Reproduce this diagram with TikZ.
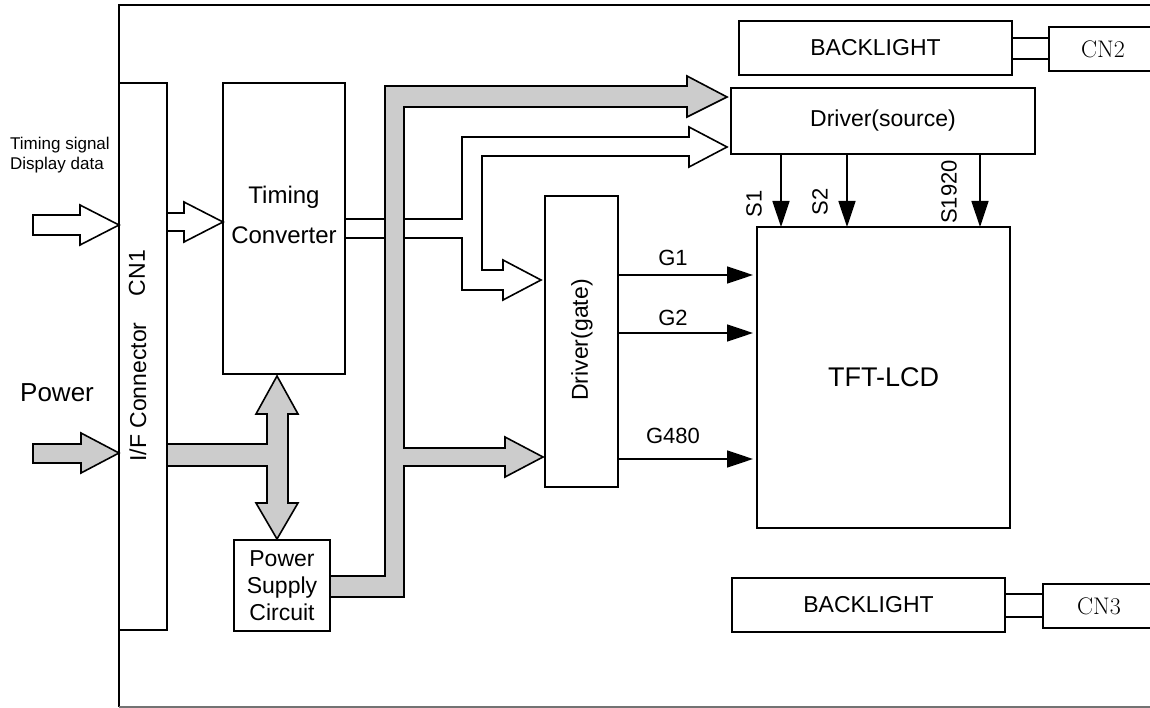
\documentclass[tikz,border=0pt]{standalone}
\usepackage{fontspec}
\newfontfamily\arial{Liberation Sans}
\usetikzlibrary{arrows.meta}
\definecolor{busgray}{gray}{0.80}
\begin{document}
\begin{tikzpicture}[x=1pt,y=-1pt,
  lw/.style={line width=1.6pt},
  box/.style={draw, lw, fill=white, anchor=north west, inner sep=0pt, outer sep=0pt,
    font=\arial\fontsize{23}{27}\selectfont, align=center},
  lbl/.style={inner sep=0pt, font=\arial\fontsize{22}{26}\selectfont},
  sig/.style={lw, -{Triangle[length=26pt,width=17pt]}},
  fatwhite/.style={draw, lw, fill=white, line join=miter},
  fatgray/.style={draw, lw, fill=busgray, line join=miter}]
\useasboundingbox (0,0) rectangle (1150,708);

% frame
\draw[lw] (1155,5) -- (119,5) -- (119,707);
\draw[lw, black!55] (119,707) -- (1155,707);

% boxes
\node[box, minimum width=48pt, minimum height=547pt] (cn1) at (119,83) {};
\node[box, minimum width=122pt, minimum height=291pt] (tc) at (223,83) {};
\node[box, minimum width=96pt, minimum height=91pt] (psc) at (234,540) {Power\\Supply\\Circuit};
\node[box, minimum width=73pt, minimum height=291pt] (gate) at (545,196) {};
\node[box, minimum width=304pt, minimum height=66pt] (src) at (731,88) {Driver(source)};
\node[box, minimum width=273pt, minimum height=54pt] (bl1) at (739,21) {BACKLIGHT};
\node[box, minimum width=108pt, minimum height=44pt, font=\fontsize{24}{28}\selectfont] (cn2) at (1049,27) {CN2};
\node[box, minimum width=253pt, minimum height=301pt, font=\arial\fontsize{27}{30}\selectfont] (tft) at (757,227) {TFT-LCD};
\node[box, minimum width=273pt, minimum height=54pt] (bl2) at (732,578) {BACKLIGHT};
\node[box, minimum width=112pt, minimum height=44pt, font=\fontsize{24}{28}\selectfont] (cn3) at (1043,584) {CN3};

% texts inside boxes
\node[lbl, font=\arial\fontsize{23}{27}\selectfont, rotate=90] (ifc) at (138,392) {I/F Connector};
\node[lbl, font=\arial\fontsize{23}{27}\selectfont, rotate=90] (cn1t) at (137,273) {CN1};
\node[lbl, font=\arial\fontsize{24}{40}\selectfont, align=center] (tct) at (284,215) {Timing\\Converter};
\node[lbl, font=\arial\fontsize{23}{27}\selectfont, rotate=90] (gatet) at (582,340) {Driver(gate)};

% outside labels
\node[inner sep=0pt, anchor=west, align=left, font=\arial\fontsize{17}{19.5}\selectfont] (tsig) at (10,155) {Timing signal\\Display data};
\node[inner sep=0pt, anchor=west, font=\arial\fontsize{26}{30}\selectfont] (pwr) at (20,393) {Power};

% backlight connectors
\draw[lw] (bl1.east |- 0,38) -- (cn2.west |- 0,38);
\draw[lw] (bl1.east |- 0,59) -- (cn2.west |- 0,59);
\draw[lw] (bl2.east |- 0,594) -- (cn3.west |- 0,594);
\draw[lw] (bl2.east |- 0,617) -- (cn3.west |- 0,617);

% input arrows
\draw[fatwhite] (33,215) -- (80,215) -- (80,205) -- (cn1.west |- 0,225) -- (80,245) -- (80,235) -- (33,235) -- cycle;
\draw[fatgray] (33,444) -- (81,444) -- (81,433) -- (cn1.west |- 0,453) -- (81,473) -- (81,463) -- (33,463) -- cycle;

% CN1 -> Timing converter
\draw[fatwhite] (cn1.east |- 0,213) -- (184,213) -- (184,202) -- (tc.west |- 0,222) -- (184,242) -- (184,231) -- (cn1.east |- 0,231);

% power bus CN1 -> TC / PSC
\draw[fatgray] (cn1.east |- 0,444) -- (267,444) -- (267,414) -- (256,414) -- (277,376) -- (298,414) -- (288,414)
  -- (288,503) -- (298,503) -- (277,539) -- (256,503) -- (267,503) -- (267,466) -- (cn1.east |- 0,466);

% TC outputs -> source driver and gate driver
\draw[fatwhite] (tc.east |- 0,219) -- (462,219) -- (462,137) -- (689,137) -- (689,127) -- (727,147) -- (689,167) -- (689,156)
  -- (482,156) -- (482,270) -- (503,270) -- (503,260) -- (541,280) -- (503,300) -- (503,290) -- (462,290) -- (462,238) -- (tc.east |- 0,238);

% power supply bus
\draw[fatgray] (psc.east |- 0,576) -- (385,576) -- (385,86) -- (687,86) -- (687,76) -- (727,97) -- (687,117) -- (687,107)
  -- (404,107) -- (404,448) -- (505,448) -- (505,437) -- (543,457) -- (505,477) -- (505,466) -- (404,466) -- (404,597) -- (psc.east |- 0,597);

% restore box edges under the wide arrows
\draw[lw] (cn1.north east) -- (cn1.south east);
\draw[lw] (tc.north east) -- (tc.south east);
\draw[lw] (psc.north east) -- (psc.south east);

% source lines
\draw[sig] (src.south -| 781,0) -- (tft.north -| 781,0);
\draw[sig] (src.south -| 847,0) -- (tft.north -| 847,0);
\draw[sig] (src.south -| 980,0) -- (tft.north -| 980,0);
\node[lbl, rotate=90] (s1) at (754,204) {S1};
\node[lbl, rotate=90] (s2) at (820,202) {S2};
\node[lbl, rotate=90] (s1920) at (949,192) {S1920};

% gate lines
\draw[sig, shorten >=4pt] (gate.east |- 0,275) -- (tft.west |- 0,275);
\draw[sig, shorten >=4pt] (gate.east |- 0,333) -- (tft.west |- 0,333);
\draw[sig, shorten >=4pt] (gate.east |- 0,459) -- (tft.west |- 0,459);
\node[lbl] (g1) at (673,258) {G1};
\node[lbl] (g2) at (673,318) {G2};
\node[lbl] (g480) at (673,436) {G480};
\end{tikzpicture}
\end{document}
